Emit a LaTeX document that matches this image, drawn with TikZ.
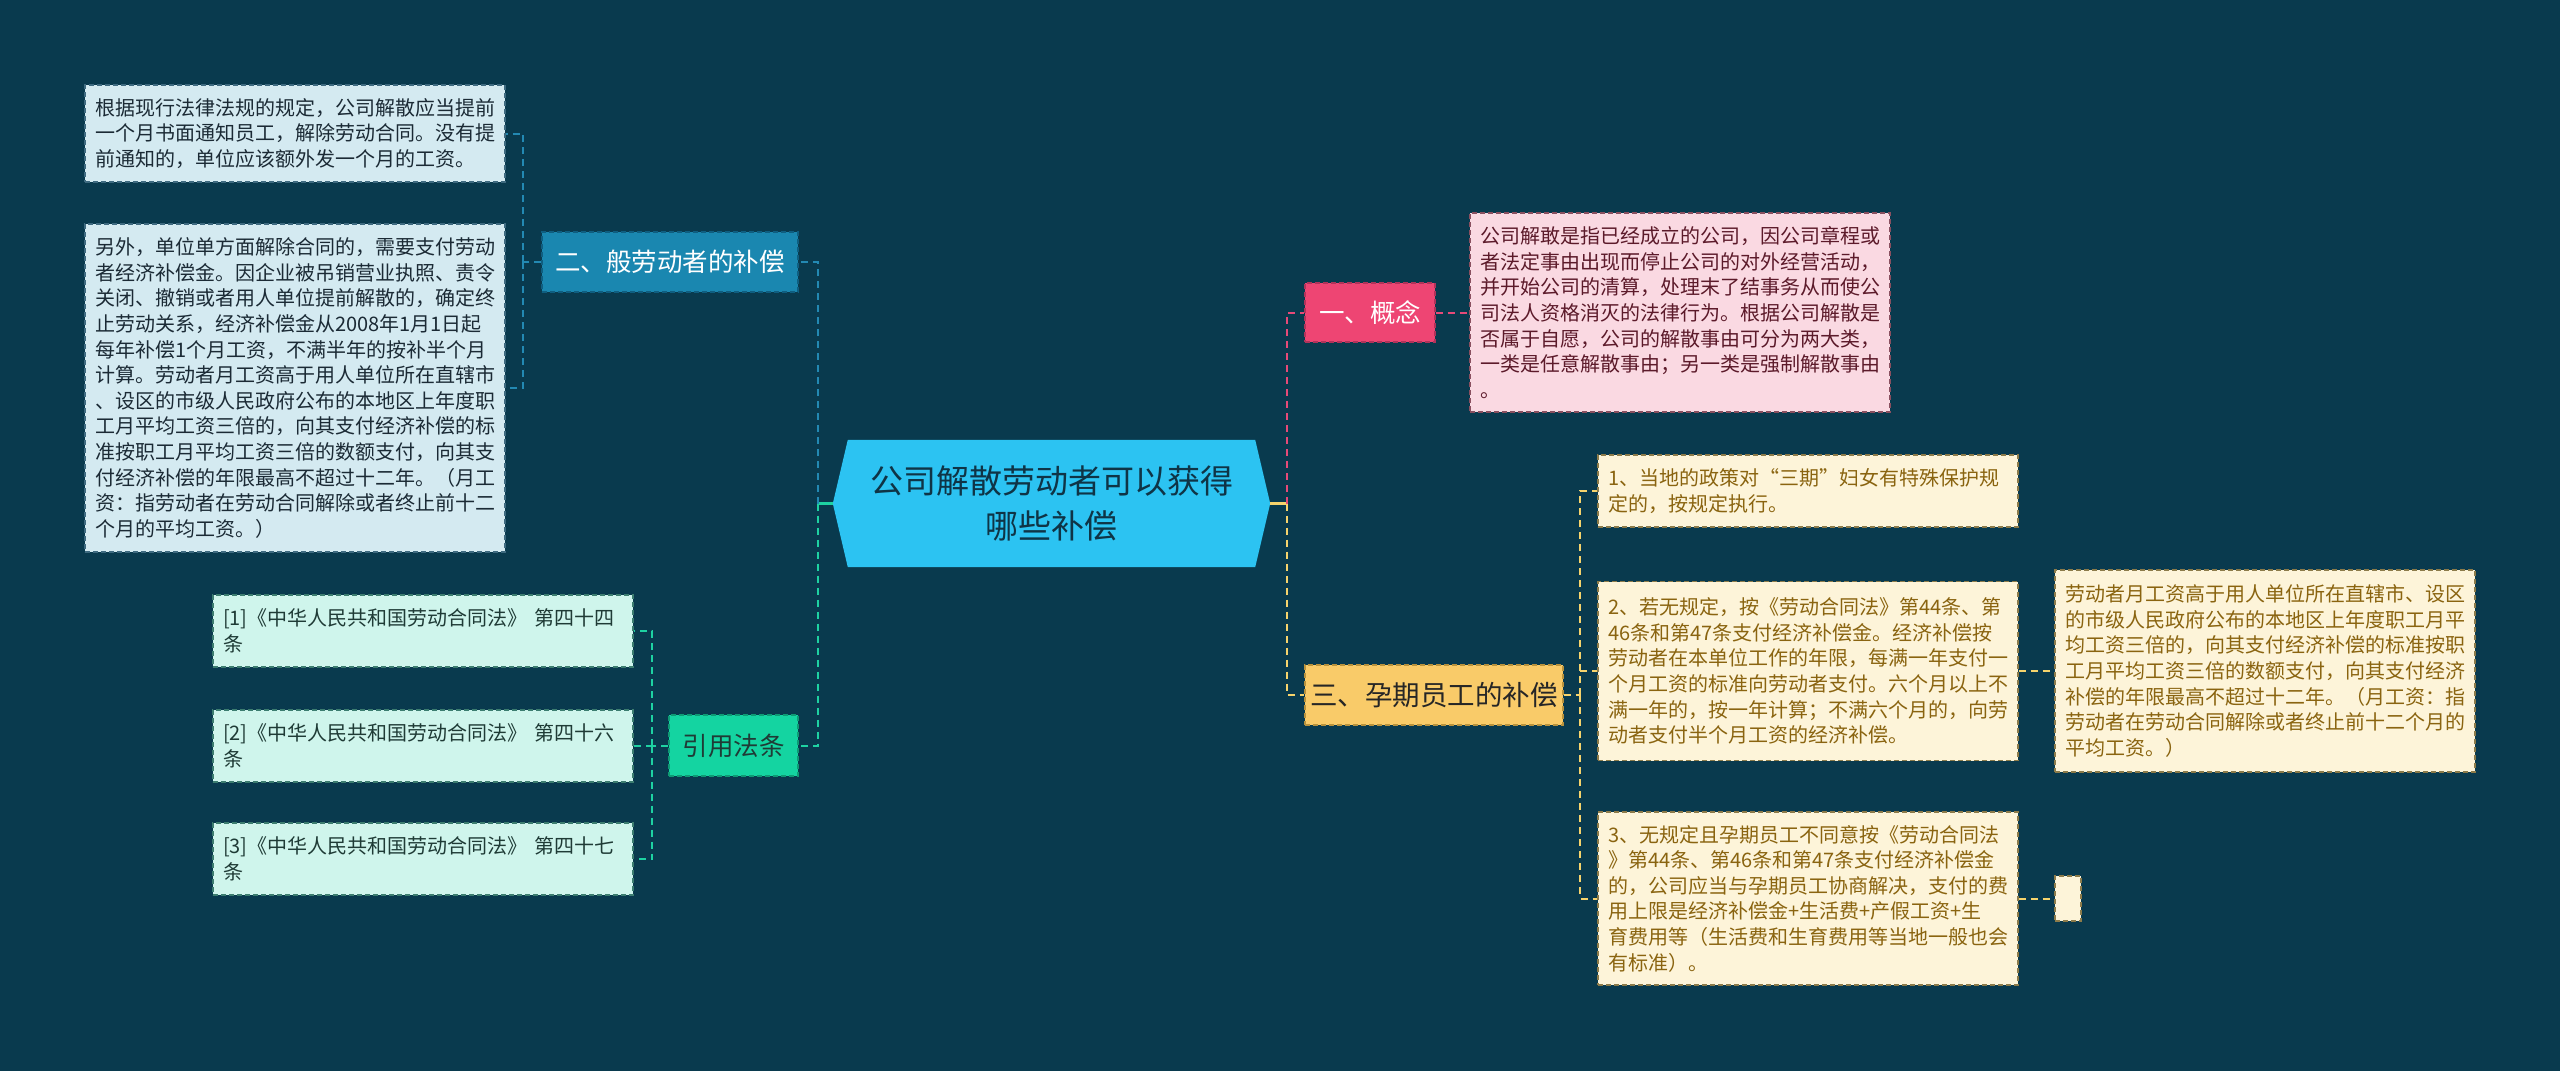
\documentclass[tikz,border=0pt]{standalone}
\usepackage{fontspec}
\setmainfont{Noto Sans CJK SC}
\usetikzlibrary{backgrounds}
\definecolor{bg}{HTML}{093A4E}
\definecolor{cblue}{HTML}{2CC3F2}
\definecolor{ctext}{HTML}{0F3446}
\definecolor{nblue}{HTML}{1A87B0}
\definecolor{nbluebd}{HTML}{0F5E80}
\definecolor{lineblue}{HTML}{2389B3}
\definecolor{npink}{HTML}{EE4573}
\definecolor{npinkbd}{HTML}{B0335A}
\definecolor{nyel}{HTML}{F9CB69}
\definecolor{nyelbd}{HTML}{B8923D}
\definecolor{lineyel}{HTML}{F6D36C}
\definecolor{ngreen}{HTML}{14D4A1}
\definecolor{ngreenbd}{HTML}{0E9A74}
\definecolor{linegreen}{HTML}{1ED2A2}
\definecolor{linepink}{HTML}{E64A78}
\definecolor{lfill}{HTML}{D4EAF1}
\definecolor{lbord}{HTML}{3E6A80}
\definecolor{ltext}{HTML}{1B2A35}
\definecolor{mfill}{HTML}{CFF5EC}
\definecolor{mbord}{HTML}{3C7D70}
\definecolor{mtext}{HTML}{1F3B36}
\definecolor{pfill}{HTML}{FAD9E2}
\definecolor{pbord}{HTML}{8A5060}
\definecolor{ptext}{HTML}{5C1A2A}
\definecolor{yfill}{HTML}{FDF4D9}
\definecolor{ybord}{HTML}{8C7B4A}
\definecolor{ytext}{HTML}{8A6410}
\tikzset{
  txtbox/.style={dash pattern=on 5pt off 3pt, line width=1.3pt, text width=400pt,
    minimum width=420pt, inner xsep=10pt, inner ysep=0pt, align=left,
    font=\fontsize{20}{25.6}\selectfont},
  lbox/.style={txtbox, draw=lbord, fill=lfill, text=ltext},
  mbox/.style={txtbox, draw=mbord, fill=mfill, text=mtext},
  pbox/.style={txtbox, draw=pbord, fill=pfill, text=ptext},
  ybox/.style={txtbox, draw=ybord, fill=yfill, text=ytext},
  cat/.style={dash pattern=on 5pt off 3pt, line width=1.3pt, inner sep=0pt,
    align=center, font=\fontsize{25.5}{30}\selectfont},
  conn/.style={line width=2pt, dash pattern=on 7pt off 5pt},
  stub/.style={line width=2.4pt}
}
\begin{document}
\begin{tikzpicture}[x=1pt,y=-1pt]
\useasboundingbox (0,0) rectangle (2560,1071);

% central node
\node[name=c, minimum width=437pt, minimum height=127pt, inner sep=0pt, align=center,
  text=ctext, font=\fontsize{33}{45}\selectfont] at (1051.5,503.5)
  {公司解散劳动者可以获得\\哪些补偿};

% left branch: general workers
\node[cat, name=n2, draw=nbluebd, fill=nblue, text=white, minimum width=256pt, minimum height=60pt]
  at (670,262) {二、般劳动者的补偿};
\node[lbox, name=b1, minimum height=97pt] at (295,133.5)
  {根据现行法律法规的规定，公司解散应当提前\\一个月书面通知员工，解除劳动合同。没有提\\前通知的，单位应该额外发一个月的工资。};
\node[lbox, name=b2, minimum height=328pt] at (295,388)
  {另外，单位单方面解除合同的，需要支付劳动\\者经济补偿金。因企业被吊销营业执照、责令\\关闭、撤销或者用人单位提前解散的，确定终\\止劳动关系，经济补偿金从2008年1月1日起\\每年补偿1个月工资，不满半年的按补半个月\\计算。劳动者月工资高于用人单位所在直辖市\\、设区的市级人民政府公布的本地区上年度职\\工月平均工资三倍的，向其支付经济补偿的标\\准按职工月平均工资三倍的数额支付，向其支\\付经济补偿的年限最高不超过十二年。（月工\\资：指劳动者在劳动合同解除或者终止前十二\\个月的平均工资。）};

% left branch: cited laws
\node[cat, name=n4, draw=ngreenbd, fill=ngreen, text=mtext, minimum width=129pt, minimum height=61pt]
  at (733.5,745.5) {引用法条};
\node[mbox, name=r1, minimum height=72pt] at (423,631)
  {[1]《中华人民共和国劳动合同法》 第四十四\\条};
\node[mbox, name=r2, minimum height=72pt] at (423,746)
  {[2]《中华人民共和国劳动合同法》 第四十六\\条};
\node[mbox, name=r3, minimum height=72pt] at (423,859)
  {[3]《中华人民共和国劳动合同法》 第四十七\\条};

% right branch: concept
\node[cat, name=n1, draw=npinkbd, fill=npink, text=white, minimum width=130pt, minimum height=59pt]
  at (1370,312.5) {一、概念};
\node[pbox, name=pb, minimum height=199pt] at (1680,312.5)
  {公司解敢是指已经成立的公司，因公司章程或\\者法定事由出现而停止公司的对外经营活动，\\并开始公司的清算，处理末了结事务从而使公\\司法人资格消灭的法律行为。根据公司解散是\\否属于自愿，公司的解散事由可分为两大类，\\一类是任意解散事由；另一类是强制解散事由\\。};

% right branch: pregnant employees
\node[cat, name=n3, draw=nyelbd, fill=nyel, text=black!85, minimum width=258pt, minimum height=60pt,
  font=\fontsize{27.5}{30}\selectfont] at (1434,695) {三、孕期员工的补偿};
\node[ybox, name=y1, minimum height=72pt] at (1808,491)
  {1、当地的政策对“三期”妇女有特殊保护规\\定的，按规定执行。};
\node[ybox, name=y2, minimum height=179pt] at (1808,671)
  {2、若无规定，按《劳动合同法》第44条、第\\46条和第47条支付经济补偿金。经济补偿按\\劳动者在本单位工作的年限，每满一年支付一\\个月工资的标准向劳动者支付。六个月以上不\\满一年的，按一年计算；不满六个月的，向劳\\动者支付半个月工资的经济补偿。};
\node[ybox, name=y3, minimum height=173pt] at (1808,898.5)
  {3、无规定且孕期员工不同意按《劳动合同法\\》第44条、第46条和第47条支付经济补偿金\\的，公司应当与孕期员工协商解决，支付的费\\用上限是经济补偿金+生活费+产假工资+生\\育费用等（生活费和生育费用等当地一般也会\\有标准）。};
\node[ybox, name=yr, minimum height=202pt] at (2265,671)
  {劳动者月工资高于用人单位所在直辖市、设区\\的市级人民政府公布的本地区上年度职工月平\\均工资三倍的，向其支付经济补偿的标准按职\\工月平均工资三倍的数额支付，向其支付经济\\补偿的年限最高不超过十二年。（月工资：指\\劳动者在劳动合同解除或者终止前十二个月的\\平均工资。）};
\node[draw=ybord, fill=yfill, dash pattern=on 5pt off 3pt, line width=1.3pt, inner sep=0pt,
  name=ys, minimum width=26pt, minimum height=45pt] at (2068,898.5) {};

% junction coordinates
\coordinate (jL) at (818,503.5);
\coordinate (jA) at (523,262);
\coordinate (jB) at (652,745.5);
\coordinate (jR) at (1287,503.5);
\coordinate (jC) at (1580,695);

% connectors left
\draw[stub, linegreen] (c.west) -- (jL);
\draw[conn, lineblue] (jL) |- (n2.east);
\draw[conn, linegreen] (jL) |- (n4.east);
\draw[conn, lineblue] (n2.west) -- (jA);
\draw[conn, lineblue] (jA) |- (b1.east);
\draw[conn, lineblue] (jA) |- (b2.east);
\draw[conn, linegreen] (n4.west) -- (jB);
\draw[conn, linegreen] (jB) |- (r1.east);
\draw[conn, linegreen] (jB) |- (r2.east);
\draw[conn, linegreen] (jB) |- (r3.east);

% connectors right
\draw[stub, lineyel] (c.east) -- (jR);
\draw[conn, linepink] (jR) |- (n1.west);
\draw[conn, lineyel] (jR) |- (n3.west);
\draw[conn, linepink] (n1.east) -- (pb.west);
\draw[conn, lineyel] (n3.east) -- (jC);
\draw[conn, lineyel] (jC) |- (y1.west);
\draw[conn, lineyel] (jC) |- (y2.west);
\draw[conn, lineyel] (jC) |- (y3.west);
\draw[conn, lineyel] (y2.east) -- (yr.west);
\draw[conn, lineyel] (y3.east) -- (ys.west);

\begin{scope}[on background layer]
  \fill[bg] (0,0) rectangle (2560,1071);
  \fill[cblue] (c.west) -- ([xshift=15pt]c.north west) -- ([xshift=-15pt]c.north east)
    -- (c.east) -- ([xshift=-15pt]c.south east) -- ([xshift=15pt]c.south west) -- cycle;
\end{scope}
\end{tikzpicture}
\end{document}
